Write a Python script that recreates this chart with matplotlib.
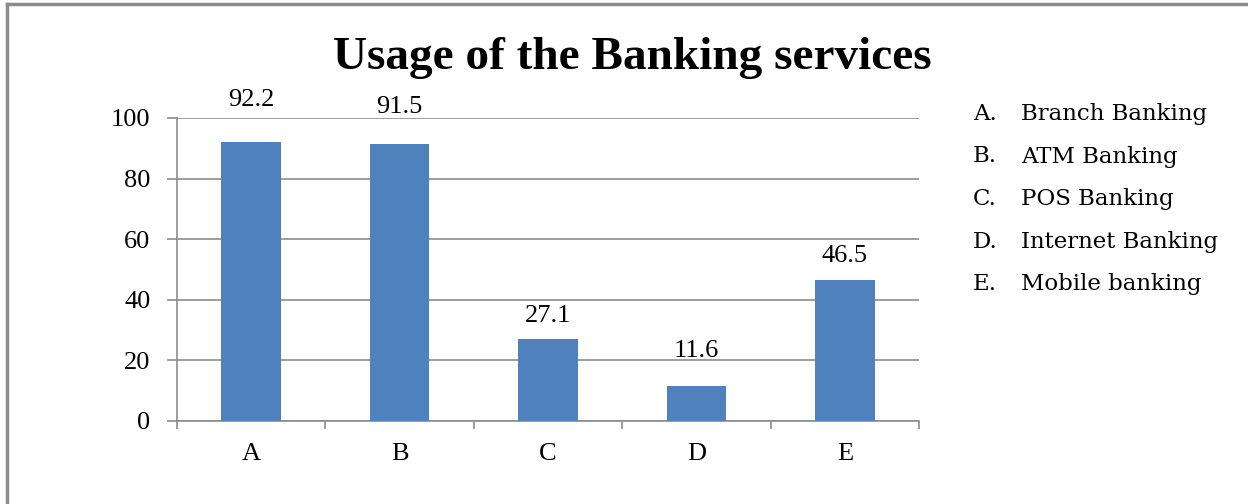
import matplotlib
matplotlib.use("Agg")
import matplotlib.pyplot as plt
from matplotlib.lines import Line2D

# chart data
categories = ['A', 'B', 'C', 'D', 'E']
usage = [92.2, 91.5, 27.1, 11.6, 46.5]
legend_items = ['Branch Banking', 'ATM Banking', 'POS Banking',
                'Internet Banking', 'Mobile banking']
y_ticks = [0, 20, 40, 60, 80, 100]

# label gap above each bar (points), as placed in the original
label_gap = [26, 22, 12, 21, 13]

plt.rcParams['font.family'] = ['Liberation Serif', 'DejaVu Serif']

fig = plt.figure(figsize=(12.48, 5.04), dpi=100)
ax = fig.add_axes([0.1418, 0.1647, 0.5946, 0.6012])

x = list(range(len(categories)))
ax.bar(x, usage, width=0.4, color='#4F81BD', zorder=3)

# value labels above bars
for xi, v, g in zip(x, usage, label_gap):
    ax.annotate(f'{v}', (xi, v), xytext=(0, g), textcoords='offset points',
                ha='center', va='baseline', fontsize=19)

ax.set_xlim(-0.5, len(categories) - 0.5)
ax.set_ylim(0, 100)
ax.set_yticks(y_ticks)
ax.set_yticklabels([str(t) for t in y_ticks], fontsize=19)
ax.grid(axis='y', color='#8c8c8c', linewidth=1.2, zorder=1)

# category ticks sit between bars, labels at bar centres
ax.set_xticks([i - 0.5 for i in range(len(categories) + 1)])
ax.set_xticklabels([])
ax.set_xticks(x, minor=True)
ax.set_xticklabels(categories, minor=True, fontsize=19)
ax.tick_params(axis='x', which='major', length=6, color='#8c8c8c', width=1.2)
ax.tick_params(axis='x', which='minor', length=0, pad=16)
ax.tick_params(axis='y', length=7, color='#8c8c8c', width=1.2, pad=12)

for side in ['top', 'right']:
    ax.spines[side].set_visible(False)
for side in ['left', 'bottom']:
    ax.spines[side].set_color('#8c8c8c')
    ax.spines[side].set_linewidth(1.2)

fig.text(0.507, 0.884, 'Usage of the Banking services', ha='center', va='center',
         fontsize=34, fontweight='bold')

# lettered key on the right
for i, (c, name) in enumerate(zip(categories, legend_items)):
    yy = 1 - (114 + i * 42.5) / 504
    fig.text(973 / 1248, yy, f'{c}.', ha='left', va='center', fontsize=16.5,
             family='DejaVu Serif')
    fig.text(1021 / 1248, yy, name, ha='left', va='center', fontsize=16.5,
             family='DejaVu Serif')

# outer frame (top and left edges only, as in the reference)
fig.add_artist(Line2D([7 / 1248, 7 / 1248], [0, 1 - 4 / 504], color='#8c8c8c',
                      linewidth=2.5, transform=fig.transFigure))
fig.add_artist(Line2D([7 / 1248, 1], [1 - 4 / 504, 1 - 4 / 504], color='#8c8c8c',
                      linewidth=2.5, transform=fig.transFigure))

fig.savefig('out.png', dpi=100)
